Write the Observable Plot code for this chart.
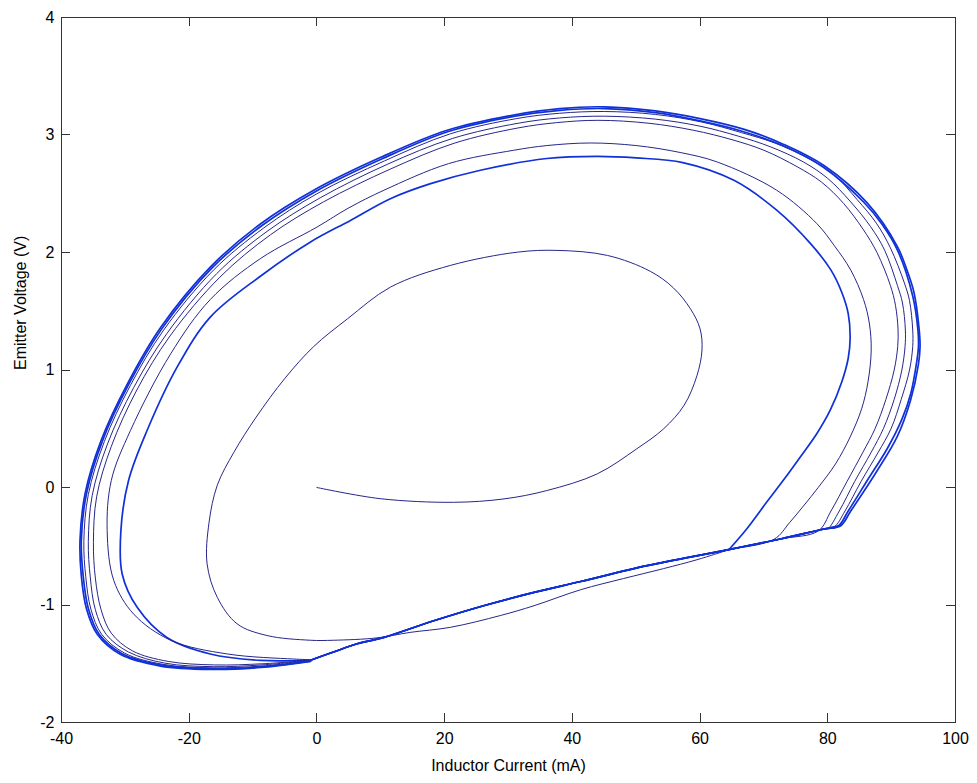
<!DOCTYPE html>
<html>
<head>
<meta charset="utf-8">
<script src="https://cdn.jsdelivr.net/npm/d3@7"></script>
<script src="https://cdn.jsdelivr.net/npm/@observablehq/plot@0.6"></script>
<style>
  body { margin: 0; background: #ffffff; }
</style>
</head>
<body>
<div id="chart"></div>
<script>
// Axis ticks and labels
const xTicks = [-40, -20, 0, 20, 40, 60, 80, 100];
const yTicks = [-2, -1, 0, 1, 2, 3, 4];
const xLabel = "Inductor Current (mA)";
const yLabel = "Emitter Voltage (V)";

// Shared lower (cut-off) segment of the trajectory: [current mA, voltage V]
const baseLine = [[-1,-1.47],[2.6,-1.40],[6.3,-1.33],[10.5,-1.276],[18.3,-1.134],[26.1,-1.006],[34,-0.893],[41.3,-0.80],[51.7,-0.665],[63.7,-0.537],[72.6,-0.438],[79.4,-0.353],[82,-0.325]];

// Start-up spiral from the origin
const loop0 = [[0,0],[9.9,-0.095],[21.4,-0.126],[29.3,-0.097],[36,-0.026],[43.9,0.116],[50.1,0.33],[54.3,0.5],[57.5,0.7],[59.5,0.95],[60.3,1.17],[60,1.35],[58.5,1.52],[55.8,1.7],[52.2,1.84],[45.5,1.975],[37.6,2.018],[31.4,2.003],[20.9,1.89],[11.5,1.705],[4.8,1.436],[-0.5,1.2],[-5,0.93],[-9.5,0.6],[-13,0.3],[-15.6,0.02],[-16.9,-0.3],[-17.2,-0.65],[-15.6,-0.935],[-12.5,-1.16],[-7.8,-1.26],[-1,-1.30],[2.6,-1.30],[9.4,-1.28],[14.6,-1.233],[20.9,-1.19],[28.7,-1.09],[34,-1.006],[41.3,-0.87],[48,-0.775],[54.3,-0.69],[59.5,-0.615],[64.5,-0.53]];

const loop1 = [[64.5,-0.53],[67.2,-0.36],[70.5,-0.12],[73.3,0.08],[75.7,0.26],[78.3,0.46],[80.4,0.66],[82.2,0.9],[83.2,1.1],[83.5,1.27],[83.2,1.48],[82.2,1.66],[80.5,1.85],[77.3,2.075],[72,2.36],[65.3,2.614],[57.3,2.765],[50,2.805],[43.9,2.818],[36,2.8],[25.6,2.7],[17.8,2.586],[11.5,2.458],[5.25,2.273],[-1,2.09],[-8.8,1.8],[-16.7,1.45],[-21.9,1.024],[-26.6,0.485],[-29.5,0.06],[-30.7,-0.367],[-30.5,-0.736],[-28.15,-1.02],[-23.5,-1.276],[-16.7,-1.417],[-8.8,-1.472],[-1,-1.47]];

const loop2 = [[71.6,-0.44],[74,-0.3],[76.3,-0.15],[78.5,0.0],[81.2,0.2],[83.5,0.43],[85.3,0.67],[86.3,0.9],[86.8,1.17],[86.5,1.4],[85.6,1.6],[83.6,1.85],[81,2.06],[78.3,2.245],[72,2.53],[62.7,2.77],[57,2.85],[50,2.91],[42.8,2.932],[36,2.91],[30.8,2.87],[20.6,2.756],[10.5,2.53],[5,2.38],[0,2.216],[-8.8,1.95],[-16.7,1.6],[-22.9,1.138],[-29.2,0.485],[-32.2,0.06],[-32.85,-0.367],[-31.8,-0.793],[-28.7,-1.077],[-22.9,-1.30],[-14,-1.417],[-3.6,-1.46],[-1,-1.465]];

const loop3 = [[78.5,-0.37],[80.5,-0.2],[83,0.05],[85.5,0.3],[87.4,0.5],[89.1,0.75],[90.4,1.0],[90.95,1.2],[91,1.35],[90.6,1.55],[89.8,1.72],[87.7,2.0],[85.5,2.2],[82.5,2.416],[79,2.6],[75.2,2.73],[70,2.87],[65,2.96],[59,3.04],[52,3.1],[44,3.125],[37.5,3.105],[31.5,3.06],[21.5,2.93],[11.5,2.71],[1,2.43],[-7.3,2.15],[-15.2,1.79],[-23,1.29],[-28.2,0.83],[-32.2,0.35],[-34.5,-0.08],[-35,-0.47],[-34.7,-0.77],[-33.8,-1.04],[-32.2,-1.24],[-28.9,-1.39],[-23.3,-1.48],[-16,-1.51],[-8.5,-1.5],[-1,-1.47]];

const loop4 = [[80,-0.352],[81.8,-0.2],[84.2,0.05],[86.8,0.3],[88.7,0.5],[90.4,0.75],[91.6,1.0],[92.1,1.2],[92.15,1.34],[91.7,1.57],[90.9,1.72],[88.9,2.02],[86.7,2.22],[83.6,2.43],[80,2.63],[76.2,2.77],[71,2.9],[66,2.99],[60,3.075],[53,3.135],[45,3.16],[38,3.145],[31.5,3.1],[21.2,2.97],[11,2.75],[0.5,2.465],[-7.8,2.18],[-15.7,1.82],[-23.5,1.31],[-28.7,0.85],[-32.8,0.37],[-35.2,-0.07],[-35.8,-0.46],[-35.5,-0.76],[-34.7,-1.04],[-33,-1.25],[-29.5,-1.4],[-23.8,-1.495],[-16.2,-1.525],[-8.6,-1.51],[-1,-1.472]];

const loop5 = [[81,-0.336],[82.7,-0.2],[85.2,0.05],[87.9,0.3],[89.9,0.5],[91.5,0.75],[92.8,1.0],[93.3,1.2],[93.3,1.34],[92.8,1.59],[92,1.74],[89.8,2.04],[87.6,2.25],[84.6,2.45],[81,2.66],[77,2.8],[71.8,2.93],[66.5,3.02],[60.3,3.11],[53,3.175],[45,3.2],[38,3.185],[31.3,3.14],[20.9,3.01],[10.6,2.78],[0,2.5],[-8.3,2.21],[-16.2,1.85],[-24,1.34],[-29.2,0.87],[-33.3,0.39],[-35.8,-0.06],[-36.5,-0.46],[-36.2,-0.76],[-35.4,-1.035],[-33.7,-1.25],[-30.1,-1.41],[-24.1,-1.505],[-16.4,-1.535],[-8.7,-1.52],[-1,-1.476]];

const loop6 = [[81.6,-0.33],[83.2,-0.2],[86.3,0.07],[89.3,0.33],[91.6,0.58],[93,0.8],[93.9,1.06],[94.2,1.2],[94.1,1.35],[93.3,1.63],[91,2.01],[88.5,2.24],[85.6,2.43],[79.2,2.73],[72.9,2.91],[66.7,3.03],[60,3.12],[53,3.19],[45,3.225],[38,3.21],[31,3.16],[20.6,3.03],[10.3,2.8],[-0.2,2.52],[-8.6,2.23],[-16.5,1.865],[-24.3,1.35],[-29.5,0.875],[-33.6,0.395],[-36.1,-0.055],[-36.9,-0.455],[-36.6,-0.755],[-35.8,-1.03],[-34.1,-1.25],[-30.5,-1.415],[-24.3,-1.512],[-16.6,-1.542],[-8.75,-1.527],[-1,-1.478]];

const loop7 = [[82,-0.325],[83.6,-0.2],[87.7,0.14],[90.85,0.43],[92.95,0.74],[94.2,1.05],[94.45,1.2],[94.3,1.35],[93.5,1.66],[92.4,1.85],[90.9,2.05],[86.2,2.42],[79.4,2.74],[73.1,2.92],[66.8,3.05],[60,3.14],[53,3.205],[45,3.24],[38,3.225],[30.8,3.17],[20.4,3.04],[10,2.81],[-0.5,2.53],[-8.8,2.245],[-16.7,1.876],[-24.5,1.36],[-29.7,0.88],[-33.8,0.4],[-36.3,-0.05],[-37.1,-0.45],[-36.9,-0.75],[-36.1,-1.03],[-34.4,-1.25],[-30.8,-1.42],[-24.5,-1.52],[-16.7,-1.548],[-8.8,-1.532],[-1,-1.48]];

// Each later loop begins by travelling along the cut-off segment up to its branch point
function withBase(loop) {
  return baseLine.filter(p => p[0] < loop[0][0]).concat(loop);
}

const thin = {stroke: "#26268c", strokeWidth: 1};
const thick = {stroke: "#1030d8", strokeWidth: 1.7};

function trace(data, style) {
  return Plot.line(data, {x: d => d[0], y: d => d[1], curve: "catmull-rom", ...style});
}

// Inward ticks on all four sides (MATLAB style), positioned with Plot's scales
function boxTicks(index, scales, values, dimensions) {
  const {width, height, marginLeft, marginRight, marginTop, marginBottom} = dimensions;
  const L = 9;
  const left = marginLeft, right = width - marginRight, top = marginTop, bottom = height - marginBottom;
  const g = d3.create("svg:g").attr("stroke", "#333").attr("stroke-width", 1).attr("fill", "none");
  for (const t of xTicks) {
    const x = Math.round(scales.x(t)) + 0.5;
    g.append("line").attr("x1", x).attr("x2", x).attr("y1", bottom).attr("y2", bottom - L);
    g.append("line").attr("x1", x).attr("x2", x).attr("y1", top).attr("y2", top + L);
  }
  for (const t of yTicks) {
    const y = Math.round(scales.y(t)) + 0.5;
    g.append("line").attr("x1", left).attr("x2", left + L).attr("y1", y).attr("y2", y);
    g.append("line").attr("x1", right).attr("x2", right - L).attr("y1", y).attr("y2", y);
  }
  return g.node();
}

const chart = Plot.plot({
  width: 977,
  height: 783,
  marginLeft: 61,
  marginRight: 22,
  marginTop: 17,
  marginBottom: 61,
  style: {fontFamily: "'Liberation Sans', Arial, Helvetica, sans-serif", fontSize: "16px", background: "#ffffff", color: "#000"},
  x: {domain: [-40, 100], label: null},
  y: {domain: [-2, 4], label: null},
  marks: [
    trace(loop0, thin),
    trace(loop1, thick),
    trace(withBase(loop2), thin),
    trace(withBase(loop3), thin),
    trace(withBase(loop4), thin),
    trace(withBase(loop5), thin),
    trace(withBase(loop6), thick),
    trace(withBase(loop7), thick),
    trace(baseLine, thick),
    Plot.frame({stroke: "#333"}),
    boxTicks,
    Plot.axisX(xTicks, {tickSize: 0, tickPadding: 10, tickFormat: d => String(d), label: null, fontSize: 16, fill: "#000"}),
    Plot.axisY(yTicks, {tickSize: 0, tickPadding: 7, tickFormat: d => String(d), label: null, fontSize: 16, fill: "#000"}),
    Plot.text([xLabel], {frameAnchor: "bottom", dy: 48, text: d => d, fontSize: 16, fill: "#000"}),
    Plot.text([yLabel], {frameAnchor: "left", dx: -41, rotate: -90, text: d => d, fontSize: 16, fill: "#000"})
  ]
});

document.getElementById("chart").appendChild(chart);
</script>
</body>
</html>
